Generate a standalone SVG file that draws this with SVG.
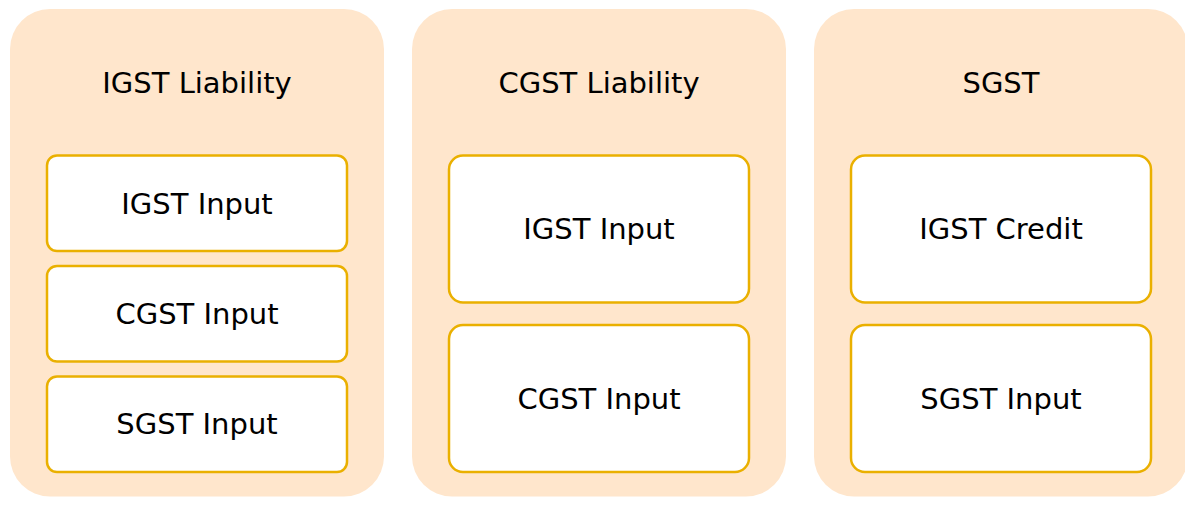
<svg xmlns="http://www.w3.org/2000/svg" width="1185" height="524" viewBox="0 0 1185 524">
  <style>
    .group { fill: #FFE6CC; stroke: none; }
    .box { fill: #FFFFFF; stroke: #EAB000; stroke-width: 2.5; }
    .t { font-family: "DejaVu Sans", Verdana, sans-serif; font-size: 29px; fill: #000000; text-anchor: middle; }
  </style>
  <rect width="1185" height="524" fill="#FFFFFF"/>
  <g id="col-igst">
    <rect class="group" x="10" y="9" width="374" height="487.5" rx="40" ry="40"/>
    <text class="t" x="197" y="92.5">IGST Liability</text>
  </g>
  <g id="col-cgst">
    <rect class="group" x="412" y="9" width="374" height="487.5" rx="40" ry="40"/>
    <text class="t" x="599" y="92.5">CGST Liability</text>
  </g>
  <g id="col-sgst">
    <rect class="group" x="814" y="9" width="374" height="487.5" rx="40" ry="40"/>
    <text class="t" x="1001" y="92.5">SGST</text>
  </g>
  <g id="igst-igst-input">
    <rect class="box" x="47" y="155.5" width="300" height="95.5" rx="10" ry="10"/>
    <text class="t" x="197" y="213.5">IGST Input</text>
  </g>
  <g id="igst-cgst-input">
    <rect class="box" x="47" y="266" width="300" height="95.5" rx="10" ry="10"/>
    <text class="t" x="197" y="324">CGST Input</text>
  </g>
  <g id="igst-sgst-input">
    <rect class="box" x="47" y="376.5" width="300" height="95.5" rx="10" ry="10"/>
    <text class="t" x="197" y="434.3">SGST Input</text>
  </g>
  <g id="cgst-igst-input">
    <rect class="box" x="449" y="155.5" width="300" height="147" rx="14" ry="14"/>
    <text class="t" x="599" y="239.3">IGST Input</text>
  </g>
  <g id="cgst-cgst-input">
    <rect class="box" x="449" y="325" width="300" height="147" rx="14" ry="14"/>
    <text class="t" x="599" y="408.5">CGST Input</text>
  </g>
  <g id="sgst-igst-credit">
    <rect class="box" x="851" y="155.5" width="300" height="147" rx="14" ry="14"/>
    <text class="t" x="1001" y="239.3">IGST Credit</text>
  </g>
  <g id="sgst-sgst-input">
    <rect class="box" x="851" y="325" width="300" height="147" rx="14" ry="14"/>
    <text class="t" x="1001" y="408.5">SGST Input</text>
  </g>
  <g id="connectors"></g>
</svg>
